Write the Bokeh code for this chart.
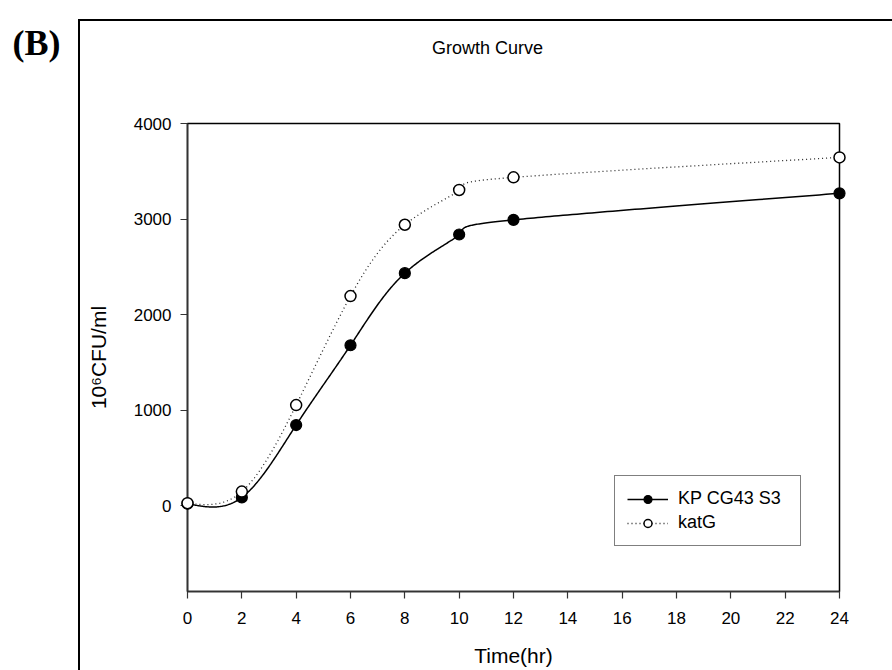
import numpy as np
from bokeh.plotting import figure
from bokeh.models import Range1d, Legend, LegendItem, FixedTicker
from bokeh.core.properties import value
from bokeh.embed import file_html
from bokeh.resources import INLINE

# ---- data ----
time_hr = [0, 2, 4, 6, 8, 10, 12, 24]
kp_cg43_s3 = [20, 85, 843, 1678, 2433, 2838, 2991, 3269]
katG = [25, 146, 1052, 2193, 2940, 3304, 3436, 3645]
x_ticks = [0, 2, 4, 6, 8, 10, 12, 14, 16, 18, 20, 22, 24]
y_ticks = [0, 1000, 2000, 3000, 4000]
series_names = ["KP CG43 S3", "katG"]
chart_title = "Growth Curve"
panel_letter = "(B)"

X_MIN, X_MAX = 0, 24
Y_MIN, Y_MAX = -900, 4000
W, H = 892, 670
LEFT, RIGHT, TOP, BOTTOM = 187, 53, 123, 79


def _natural_coeffs(t, v):
    k = len(t)
    h = np.diff(t)
    A = np.zeros((k, k))
    r = np.zeros(k)
    A[0, 0] = 1.0
    A[-1, -1] = 1.0
    for i in range(1, k - 1):
        A[i, i - 1] = h[i - 1]
        A[i, i] = 2 * (h[i - 1] + h[i])
        A[i, i + 1] = h[i]
        r[i] = 6 * ((v[i + 1] - v[i]) / h[i] - (v[i] - v[i - 1]) / h[i - 1])
    return np.linalg.solve(A, r)


def _eval(t, v, M, i, s):
    h = t[i + 1] - t[i]
    a = t[i + 1] - s
    b = s - t[i]
    return (M[i] * a ** 3 / (6 * h) + M[i + 1] * b ** 3 / (6 * h)
            + (v[i] / h - M[i] * h / 6) * a + (v[i + 1] / h - M[i + 1] * h / 6) * b)


def smooth_curve(xs, ys, n=60):
    """Parametric natural cubic spline through the points (index parameter)."""
    xs = np.asarray(xs, float)
    ys = np.asarray(ys, float)
    t = np.arange(len(xs), dtype=float)
    Mx = _natural_coeffs(t, xs)
    My = _natural_coeffs(t, ys)
    ox, oy = [], []
    for i in range(len(t) - 1):
        s = np.linspace(t[i], t[i + 1], n, endpoint=(i == len(t) - 2))
        ox.extend(_eval(t, xs, Mx, i, s).tolist())
        oy.extend(_eval(t, ys, My, i, s).tolist())
    return ox, oy


FONT = "Liberation Sans"

p = figure(width=W, height=H, output_backend="svg", toolbar_location=None,
           x_range=Range1d(X_MIN, X_MAX), y_range=Range1d(Y_MIN, Y_MAX),
           min_border_left=LEFT, min_border_right=RIGHT, min_border_top=TOP,
           min_border_bottom=BOTTOM)
p.background_fill_color = "white"
p.border_fill_alpha = 0
p.outline_line_color = "black"
p.outline_line_width = 1.5
p.xgrid.visible = False
p.ygrid.visible = False
# outer panel frame (left and top edges)
p.styles = {
    "background": "linear-gradient(#000,#000) 78px 19px / 2px calc(100% - 19px) no-repeat, "
                  "linear-gradient(#000,#000) 78px 19px / calc(100% - 78px) 2px no-repeat, #fff"
}

# axes
for ax in (p.xaxis[0], p.yaxis[0]):
    ax.axis_line_color = "#333333"
    ax.axis_line_width = 1.6
    ax.major_tick_line_color = "#333333"
    ax.major_tick_line_width = 1.2
    ax.major_tick_out = 7
    ax.major_tick_in = 0
    ax.minor_tick_line_color = None
    ax.major_label_text_font = FONT
    ax.major_label_text_font_size = "17px"
    ax.major_label_text_color = "black"
    ax.axis_label_text_font = FONT
    ax.axis_label_text_font_size = "21px"
    ax.axis_label_text_font_style = "normal"
    ax.axis_label_text_color = "black"

p.xaxis.ticker = FixedTicker(ticks=x_ticks)
p.yaxis.ticker = FixedTicker(ticks=y_ticks)
p.xaxis.axis_label = "Time(hr)"
p.yaxis.axis_label = "10\u2076CFU/ml"
p.xaxis.major_label_standoff = 13
p.xaxis.axis_label_standoff = 17
p.yaxis.major_label_standoff = 9
p.yaxis.axis_label_standoff = 21

# series 1: KP CG43 S3 (solid line, filled circles)
sx1, sy1 = smooth_curve(time_hr, kp_cg43_s3)
l1 = p.line(sx1, sy1, line_color="black", line_width=1.5)
m1 = p.scatter(time_hr, kp_cg43_s3, marker="circle", size=11,
               fill_color="black", line_color="black", line_width=1.2,
               level="overlay")

# series 2: katG (dotted line, open circles)
sx2, sy2 = smooth_curve(time_hr, katG)
l2 = p.line(sx2, sy2, line_color="#222222", line_width=1.3, line_dash="1 3")
m2 = p.scatter(time_hr, katG, marker="circle", size=11,
               fill_color="white", line_color="black", line_width=1.5,
               level="overlay")

legend = Legend(items=[LegendItem(label=series_names[0], renderers=[l1, m1]),
                       LegendItem(label=series_names[1], renderers=[l2, m2])],
                location=(427, 45))
legend.label_text_font = FONT
legend.label_text_font_size = "18px"
legend.label_text_color = "black"
legend.border_line_color = "black"
legend.border_line_width = 1.5
legend.background_fill_color = "white"
legend.background_fill_alpha = 1.0
legend.glyph_width = 41
legend.glyph_height = 20
legend.label_height = 20
legend.label_width = 110
legend.label_standoff = 10
legend.padding = 12
legend.spacing = 3
legend.margin = 0
p.add_layout(legend, "center")

# chart title, anchored to the top-left corner of the plot box
p.text(x=[X_MIN], y=[Y_MAX], text=[chart_title], x_offset=300, y_offset=-76,
       text_align="center", text_baseline="middle",
       text_font=value(FONT), text_font_size=value("18px"),
       text_color="black", level="overlay")

# panel letter
p.text(x=[X_MIN], y=[Y_MAX], text=[panel_letter], x_offset=-175, y_offset=-81,
       text_align="left", text_baseline="alphabetic",
       text_font=value("Liberation Serif"), text_font_style="bold",
       text_font_size=value("36px"), text_color="black", level="overlay")

open("out.html", "w").write(file_html(p, INLINE))
